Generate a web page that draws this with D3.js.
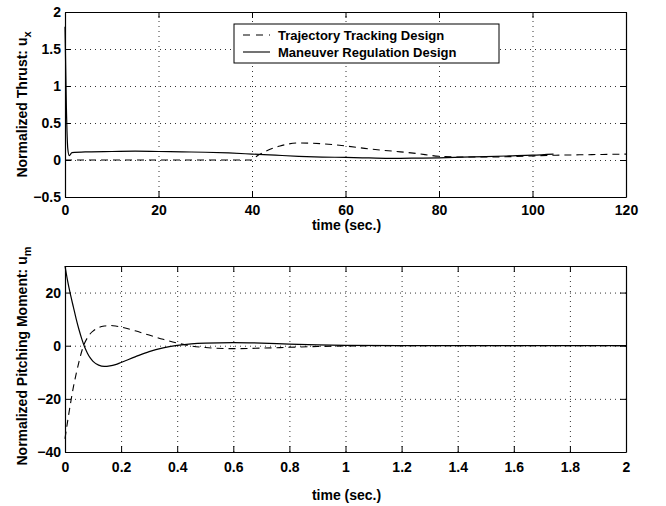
<!DOCTYPE html>
<html>
<head>
<meta charset="utf-8">
<script src="https://cdn.jsdelivr.net/npm/d3@7"></script>
<style>
  body { margin: 0; background: #fff; }
  text { font-family: "Liberation Sans", Arial, sans-serif; font-weight: bold; }
</style>
</head>
<body>
<div id="chart"></div>
<script>
// top panel: normalized thrust
const thrustTimeMR = [0, 0.3, 0.6, 0.9, 1.5, 5, 10, 15, 20, 25, 30, 35, 40, 45, 50, 55, 60, 65, 70, 75, 80, 85, 90, 95, 100, 104.5];
const thrustMR = [1.8, 0.7, 0.15, 0.06, 0.1, 0.11, 0.115, 0.12, 0.115, 0.11, 0.105, 0.095, 0.08, 0.065, 0.05, 0.04, 0.035, 0.028, 0.022, 0.025, 0.03, 0.038, 0.045, 0.055, 0.065, 0.08];
const thrustTimeTT = [0, 40, 41, 43, 46, 50, 55, 60, 65, 70, 75, 80, 85, 90, 95, 100, 105, 110, 115, 120];
const thrustTT = [0, 0, 0.05, 0.12, 0.19, 0.23, 0.22, 0.19, 0.15, 0.12, 0.09, 0.05, 0.04, 0.04, 0.045, 0.055, 0.065, 0.07, 0.075, 0.08];

// bottom panel: normalized pitching moment
const momentTime = [0, 0.01, 0.02, 0.03, 0.04, 0.05, 0.06, 0.07, 0.08, 0.09, 0.1, 0.12, 0.14, 0.16, 0.18, 0.2, 0.25, 0.3, 0.35, 0.4, 0.45, 0.5, 0.6, 0.7, 0.8, 0.9, 1.0, 1.2, 1.5, 2];
const momentMR = [30, 24, 19, 14.5, 10, 6, 2.5, -0.5, -2.8, -4.6, -5.9, -7.3, -7.8, -7.6, -7.1, -6.3, -4.2, -2.2, -0.8, 0.1, 0.7, 1.0, 1.2, 1.0, 0.6, 0.3, 0.1, 0, 0, 0];
const momentTT = [-35, -28, -21.5, -15.5, -10.5, -6, -2, 1, 3, 4.5, 5.5, 6.8, 7.4, 7.6, 7.4, 7.0, 5.6, 4.0, 2.4, 1.0, -0.1, -0.7, -1.1, -0.9, -0.6, -0.3, -0.1, 0, 0, 0];

const thrustXTicks = [0, 20, 40, 60, 80, 100, 120];
const thrustYTicks = [-0.5, 0, 0.5, 1, 1.5, 2];
const momentXTicks = [0, 0.2, 0.4, 0.6, 0.8, 1, 1.2, 1.4, 1.6, 1.8, 2];
const momentYTicks = [-40, -20, 0, 20];

const legendLabels = ["Trajectory Tracking Design", "Maneuver Regulation Design"];

const W = 666, H = 506;
const svg = d3.select("#chart").append("svg")
    .attr("width", W)
    .attr("height", H);

const fmt = d => String(d).replace("-", "\u2212");

let panel = (opt) => {
    let g = svg.append("g").attr("transform", "translate(" + opt.left + "," + opt.top + ")");
    let w = opt.width, h = opt.height;

    let x = d3.scaleLinear().domain(opt.xDomain).range([0, w]);
    let y = d3.scaleLinear().domain(opt.yDomain).range([h, 0]);

    // dotted grid
    g.append("g")
        .attr("class", "grid")
        .attr("transform", "translate(0," + h + ")")
        .call(d3.axisBottom(x).tickValues(opt.xTicks).tickSize(-h).tickFormat(""))
        .call(s => s.select(".domain").remove());
    g.append("g")
        .attr("class", "grid")
        .call(d3.axisLeft(y).tickValues(opt.yTicks).tickSize(-w).tickFormat(""))
        .call(s => s.select(".domain").remove());
    g.selectAll(".grid line")
        .attr("stroke", "#333")
        .attr("stroke-width", 1)
        .attr("stroke-dasharray", "1,4");

    // inward ticks on all four sides
    g.append("g")
        .attr("transform", "translate(0," + h + ")")
        .call(d3.axisBottom(x).tickValues(opt.xTicks).tickSize(-6).tickSizeOuter(0).tickPadding(opt.xPad).tickFormat(fmt));
    g.append("g")
        .call(d3.axisLeft(y).tickValues(opt.yTicks).tickSize(-6).tickSizeOuter(0).tickPadding(4).tickFormat(fmt));
    g.append("g")
        .call(d3.axisTop(x).tickValues(opt.xTicks).tickSize(-6).tickSizeOuter(0).tickFormat(""));
    g.append("g")
        .attr("transform", "translate(" + w + ",0)")
        .call(d3.axisRight(y).tickValues(opt.yTicks).tickSize(-6).tickSizeOuter(0).tickFormat(""));

    g.selectAll(".tick text")
        .attr("font-size", "14px")
        .attr("font-family", "Liberation Sans, Arial, sans-serif")
        .attr("font-weight", "bold")
        .attr("fill", "#000");
    g.selectAll(".domain").attr("stroke", "#000").attr("stroke-width", 1.2);

    let line = d3.line()
        .x(d => x(d[0]))
        .y(d => y(d[1]))
        .curve(d3.curveMonotoneX);

    g.append("path")
        .datum(opt.timeTT.map((t, i) => [t, opt.valTT[i]]))
        .attr("fill", "none")
        .attr("stroke", "#000")
        .attr("stroke-width", 1.1)
        .attr("stroke-dasharray", "7,5")
        .attr("d", line);

    g.append("path")
        .datum(opt.timeMR.map((t, i) => [t, opt.valMR[i]]))
        .attr("fill", "none")
        .attr("stroke", "#000")
        .attr("stroke-width", 1.2)
        .attr("d", line);

    // x label
    g.append("text")
        .attr("x", w / 2 + 1)
        .attr("y", h + opt.xLabelDy)
        .attr("text-anchor", "middle")
        .attr("font-size", "14px")
        .text("time (sec.)");

    // y label with subscript
    let yl = g.append("text")
        .attr("transform", "translate(" + (27 - opt.left) + "," + (h / 2 + opt.yLabelShift) + ") rotate(-90)")
        .attr("text-anchor", "middle")
        .attr("font-size", "14px");
    yl.append("tspan").text(opt.yLabel);
    yl.append("tspan").attr("font-size", "11px").attr("dy", 4).text(opt.ySub);

    return {g, x, y};
};

let thrustPanel = panel({
    left: 65, top: 12, width: 561, height: 185,
    xDomain: [0, 120], yDomain: [-0.5, 2],
    xTicks: thrustXTicks, yTicks: thrustYTicks, xPad: 8, xLabelDy: 33, yLabelShift: 0,
    timeMR: thrustTimeMR, valMR: thrustMR, timeTT: thrustTimeTT, valTT: thrustTT,
    yLabel: "Normalized Thrust: u", ySub: "x"
});

let momentPanel = panel({
    left: 65, top: 266, width: 561, height: 186,
    xDomain: [0, 2], yDomain: [-40, 30],
    xTicks: momentXTicks, yTicks: momentYTicks, xPad: 10, xLabelDy: 48, yLabelShift: -3,
    timeMR: momentTime, valMR: momentMR, timeTT: momentTime, valTT: momentTT,
    yLabel: "Normalized Pitching Moment: u", ySub: "m"
});

// legend in the top panel
let lg = svg.append("g").attr("transform", "translate(234,24)");
lg.append("rect")
    .attr("width", 265)
    .attr("height", 39)
    .attr("fill", "#fff")
    .attr("stroke", "#000")
    .attr("stroke-width", 1);

legendLabels.forEach((lab, i) => {
    let yy = 11 + i * 17;
    lg.append("line")
        .attr("x1", 9).attr("x2", 36)
        .attr("y1", yy).attr("y2", yy)
        .attr("stroke", "#000")
        .attr("stroke-width", 1.1)
        .attr("stroke-dasharray", i === 0 ? "7,6" : null);
    lg.append("text")
        .attr("x", 44)
        .attr("y", yy + 5)
        .attr("font-size", "13px")
        .text(lab);
});
</script>
</body>
</html>
